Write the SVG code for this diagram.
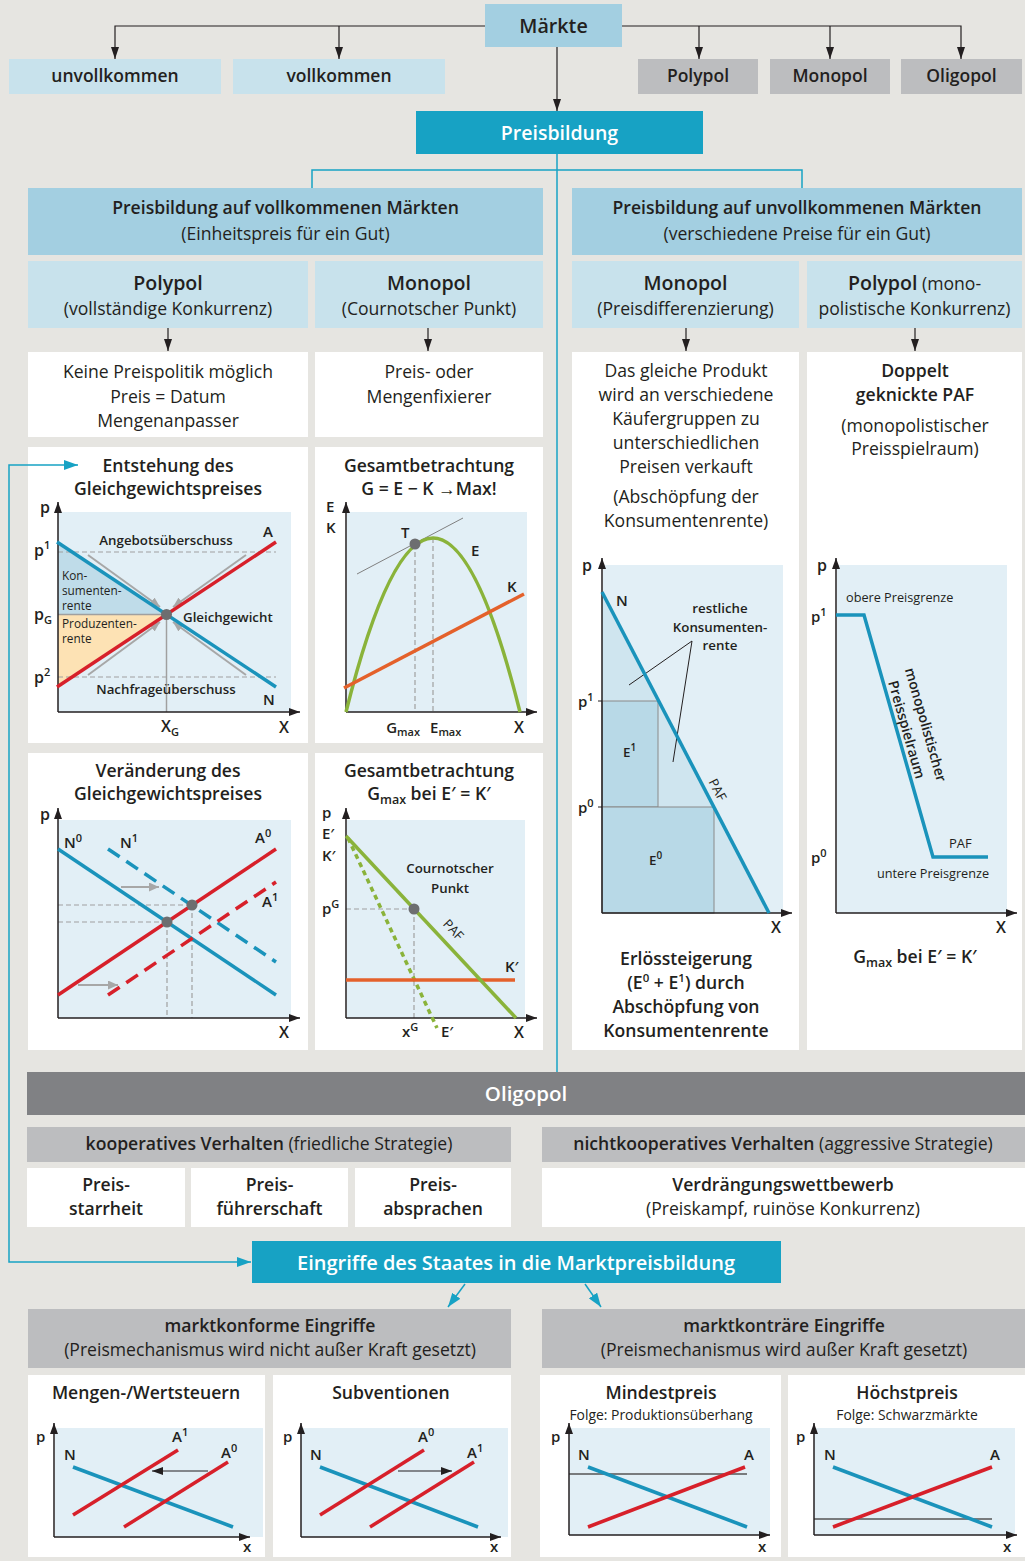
<svg xmlns="http://www.w3.org/2000/svg" width="1025" height="1561" viewBox="0 0 1025 1561" font-size="17.6">
<defs>
<style>
text{font-family:"Open Sans","Noto Sans","Liberation Sans",sans-serif;font-stretch:90%;fill:#231f20}
.b{font-weight:600}
.m{font-weight:600}
.w{fill:#fff}
.c{text-anchor:middle}
.gt{font-size:13.3px;font-weight:600}
.lt{font-size:15px;font-weight:600}
.ax{font-size:16px;font-weight:600}
.axis{stroke:#231f20;stroke-width:1.5;fill:none;marker-end:url(#ax)}
.bg{fill:#e2eff6}
.pn{fill:#fff}
.lb{fill:#c8e2ec}
.db{fill:#a3cfe1}
.gr{fill:#bcbdbf}
.tl{fill:#17a2c4}
.blue{stroke:#1a93bb;stroke-width:3.5;fill:none}
.red{stroke:#d7202a;stroke-width:3.5;fill:none}
.green{stroke:#8ab33a;stroke-width:3.5;fill:none}
.orange{stroke:#e4612b;stroke-width:3.5;fill:none}
.dash{stroke:#a0a0a0;stroke-width:1.2;stroke-dasharray:5 3;fill:none}
.gl{stroke:#a0a0a0;stroke-width:1.5;fill:none}
.garr{stroke:#a7a7a7;stroke-width:2;fill:none;marker-end:url(#ag)}
.con{stroke:#231f20;stroke-width:1.2;fill:none;marker-end:url(#ah)}
.teal{stroke:#17a2c4;stroke-width:1.5;fill:none}
.pt{fill:#6d6e70}
</style>
<marker id="ah" viewBox="0 0 12 8" refX="12" refY="4" markerWidth="12" markerHeight="8" markerUnits="userSpaceOnUse" orient="auto"><path d="M0,0 L12,4 L0,8 z" fill="#231f20"/></marker>
<marker id="ax" viewBox="0 0 11 8" refX="11" refY="4" markerWidth="11" markerHeight="8" markerUnits="userSpaceOnUse" orient="auto"><path d="M0,0 L11,4 L0,8 z" fill="#231f20"/></marker>
<marker id="ag" viewBox="0 0 10 9" refX="10" refY="4.5" markerWidth="10" markerHeight="9" markerUnits="userSpaceOnUse" orient="auto"><path d="M0,0 L10,4.5 L0,9 z" fill="#a7a7a7"/></marker>
<marker id="at" viewBox="0 0 14 10" refX="14" refY="5" markerWidth="14" markerHeight="10" markerUnits="userSpaceOnUse" orient="auto-start-reverse"><path d="M0,0 L14,5 L0,10 z" fill="#17a2c4"/></marker>
</defs>
<rect x="0" y="0" width="1025" height="1561" fill="#e6e5e1"/>

<g id="n-maerkte"><rect x="485" y="4" width="137" height="43" class="db"/><text x="553.5" y="33" font-size="19.7" class="c m">Märkte</text></g>
<g id="n-unvollkommen"><rect x="9" y="59" width="212" height="35" class="lb"/><text x="115" y="82" font-size="17.5" class="c m">unvollkommen</text></g>
<g id="n-vollkommen"><rect x="233" y="59" width="212" height="35" class="lb"/><text x="339" y="82" font-size="17.5" class="c m">vollkommen</text></g>
<g id="n-polypol"><rect x="638" y="59" width="120" height="35" class="gr"/><text x="698" y="82" font-size="17.5" class="c m">Polypol</text></g>
<g id="n-monopol"><rect x="770" y="59" width="120" height="35" class="gr"/><text x="830" y="82" font-size="17.5" class="c m">Monopol</text></g>
<g id="n-oligopol"><rect x="901" y="59" width="121" height="35" class="gr"/><text x="961.5" y="82" font-size="17.5" class="c m">Oligopol</text></g>
<g id="n-preisbildung"><rect x="416" y="111" width="287" height="43" class="tl"/><text x="559.5" y="140" font-size="19.5" class="c m w">Preisbildung</text></g>

<g id="n-vollk-maerkte"><rect x="28" y="188" width="515" height="67" class="db"/>
<text x="285.5" y="214" class="c b">Preisbildung auf vollkommenen Märkten</text>
<text x="285.5" y="240" class="c">(Einheitspreis für ein Gut)</text></g>
<g id="n-unvollk-maerkte"><rect x="572" y="188" width="450" height="67" class="db"/>
<text x="797" y="214" class="c b">Preisbildung auf unvollkommenen Märkten</text>
<text x="797" y="240" class="c">(verschiedene Preise für ein Gut)</text></g>

<g id="n-polypol-v"><rect x="28" y="261" width="280" height="67" class="lb"/>
<text x="168" y="290" font-size="19.6" class="c b">Polypol</text>
<text x="168" y="315" class="c">(vollständige Konkurrenz)</text></g>
<g id="n-monopol-v"><rect x="315" y="261" width="228" height="67" class="lb"/>
<text x="429" y="290" font-size="19.6" class="c b">Monopol</text>
<text x="429" y="315" class="c">(Cournotscher Punkt)</text></g>
<g id="n-monopol-u"><rect x="572" y="261" width="227" height="67" class="lb"/>
<text x="685.5" y="290" font-size="19.6" class="c b">Monopol</text>
<text x="685.5" y="315" class="c">(Preisdifferenzierung)</text></g>
<g id="n-polypol-u"><rect x="807" y="261" width="215" height="67" class="lb"/>
<text x="914.5" y="290" class="c"><tspan class="b" font-size="19.6">Polypol</tspan> (mono-</text>
<text x="914.5" y="315" class="c">polistische Konkurrenz)</text></g>

<g id="n-keine"><rect x="28" y="352" width="280" height="85" class="pn"/>
<text x="168" y="378" class="c">Keine Preispolitik möglich</text>
<text x="168" y="403" class="c">Preis = Datum</text>
<text x="168" y="427" class="c">Mengenanpasser</text></g>
<g id="n-fixierer"><rect x="315" y="352" width="228" height="85" class="pn"/>
<text x="429" y="378" class="c">Preis- oder</text>
<text x="429" y="403" class="c">Mengenfixierer</text></g>

<g id="g-entstehung"><rect x="28" y="447" width="280" height="296" class="pn"/>
<text x="168" y="472" class="c b">Entstehung des</text>
<text x="168" y="495" class="c b">Gleichgewichtspreises</text>
<rect x="58" y="512" width="233" height="200" class="bg"/>
<polygon points="58,543 166.5,614.5 58,614.5" fill="#bfdce9"/>
<polygon points="58,614.5 166.5,614.5 58,686" fill="#fde2b4"/>
<line class="dash" x1="58" y1="552" x2="276" y2="552"/>
<line class="dash" x1="58" y1="677" x2="276" y2="677"/>
<line class="gl" x1="58" y1="614.5" x2="166.5" y2="614.5"/>
<line class="gl" x1="166.5" y1="614.5" x2="166.5" y2="712"/>
<line class="garr" x1="88" y1="555" x2="160" y2="607"/>
<line class="garr" x1="246" y1="555" x2="173" y2="607"/>
<line class="garr" x1="88" y1="675" x2="160" y2="622"/>
<line class="garr" x1="246" y1="675" x2="173" y2="622"/>
<line class="axis" x1="58" y1="712" x2="58" y2="502"/>
<line class="axis" x1="58" y1="712" x2="300" y2="712"/>
<line class="blue" x1="57" y1="542" x2="276" y2="687"/>
<line class="red" x1="57" y1="687" x2="276" y2="542"/>
<circle cx="166.5" cy="614.5" r="5.5" class="pt"/>
<text x="40" y="513" class="ax">p</text>
<text x="34" y="556" class="ax">p<tspan dy="-7" font-size="11">1</tspan></text>
<text x="34" y="620" class="ax">p<tspan dy="4" font-size="11">G</tspan></text>
<text x="34" y="683" class="ax">p<tspan dy="-7" font-size="11">2</tspan></text>
<text x="166" y="545" class="c gt">Angebotsüberschuss</text>
<text x="263" y="537" class="lt">A</text>
<text x="62" y="580" font-size="11.8">Kon-</text>
<text x="62" y="595" font-size="11.8">sumenten-</text>
<text x="62" y="610" font-size="11.8">rente</text>
<text x="62" y="628" font-size="11.8">Produzenten-</text>
<text x="62" y="643" font-size="11.8">rente</text>
<text x="183" y="622" class="gt">Gleichgewicht</text>
<text x="166" y="694" class="c gt">Nachfrageüberschuss</text>
<text x="263" y="705" class="lt">N</text>
<text x="279" y="733" class="ax">X</text>
<text x="161" y="732" class="ax">X<tspan dy="4" font-size="11">G</tspan></text>
</g>

<g id="g-gesamt1"><rect x="315" y="447" width="228" height="296" class="pn"/>
<text x="429" y="472" class="c b">Gesamtbetrachtung</text>
<text x="429" y="495" class="c b">G = E − K →Max!</text>
<rect x="347" y="512" width="180" height="200" class="bg"/>
<line class="dash" x1="415" y1="544" x2="415" y2="712"/>
<line class="dash" x1="433" y1="538" x2="433" y2="712"/>
<line x1="357" y1="574" x2="463" y2="518" stroke="#808080" stroke-width="1"/>
<line class="axis" x1="346" y1="712" x2="346" y2="502"/>
<line class="axis" x1="346" y1="712" x2="537" y2="712"/>
<path class="green" d="M346,712 Q433,364 520,712"/>
<line class="orange" x1="344" y1="688" x2="524" y2="594"/>
<circle cx="415" cy="544" r="5.5" class="pt"/>
<text x="326" y="512" class="lt">E</text>
<text x="326" y="533" class="lt">K</text>
<text x="401" y="538" class="lt">T</text>
<text x="471" y="556" class="lt">E</text>
<text x="507" y="592" class="lt">K</text>
<text x="420" y="733" class="lt" text-anchor="end">G<tspan dy="3" font-size="11">max</tspan></text>
<text x="430" y="733" class="lt">E<tspan dy="3" font-size="11">max</tspan></text>
<text x="514" y="733" class="ax">X</text>
</g>

<g id="g-veraenderung"><rect x="28" y="753" width="280" height="297" class="pn"/>
<text x="168" y="777" class="c b">Veränderung des</text>
<text x="168" y="800" class="c b">Gleichgewichtspreises</text>
<rect x="58" y="820" width="233" height="198" class="bg"/>
<line class="dash" x1="58" y1="905" x2="192" y2="905"/>
<line class="dash" x1="58" y1="922" x2="167" y2="922"/>
<line class="dash" x1="167" y1="922" x2="167" y2="1018"/>
<line class="dash" x1="192" y1="905" x2="192" y2="1018"/>
<line class="garr" x1="121" y1="887" x2="159" y2="887"/>
<line class="garr" x1="78" y1="985" x2="118" y2="985"/>
<line class="axis" x1="58" y1="1018" x2="58" y2="808"/>
<line class="axis" x1="58" y1="1018" x2="300" y2="1018"/>
<line class="blue" x1="58" y1="849" x2="276" y2="995"/>
<line class="blue" x1="108" y1="849" x2="276" y2="962" stroke-dasharray="14 8"/>
<line class="red" x1="58" y1="995" x2="276" y2="849"/>
<line class="red" x1="108" y1="995" x2="276" y2="882" stroke-dasharray="14 8"/>
<circle cx="167" cy="922" r="5.5" class="pt"/>
<circle cx="192" cy="905" r="5.5" class="pt"/>
<text x="40" y="820" class="ax">p</text>
<text x="64" y="848" class="lt">N<tspan dy="-6" font-size="11">0</tspan></text>
<text x="120" y="848" class="lt">N<tspan dy="-6" font-size="11">1</tspan></text>
<text x="255" y="843" class="lt">A<tspan dy="-6" font-size="11">0</tspan></text>
<text x="262" y="907" class="lt">A<tspan dy="-6" font-size="11">1</tspan></text>
<text x="279" y="1038" class="ax">X</text>
</g>

<g id="g-gesamt2"><rect x="315" y="753" width="228" height="297" class="pn"/>
<text x="429" y="777" class="c b">Gesamtbetrachtung</text>
<text x="429" y="800" class="c b">G<tspan dy="4" font-size="12.5">max</tspan><tspan dy="-4"> bei E′ = K′</tspan></text>
<rect x="347" y="820" width="178" height="198" class="bg"/>
<line class="dash" x1="346" y1="909" x2="414" y2="909"/>
<line class="dash" x1="414" y1="909" x2="414" y2="1018"/>
<line class="axis" x1="346" y1="1018" x2="346" y2="808"/>
<line class="axis" x1="346" y1="1018" x2="537" y2="1018"/>
<line class="green" x1="348" y1="838" x2="437" y2="1028" stroke-dasharray="5 4"/>
<line class="orange" x1="346" y1="980" x2="515" y2="980"/>
<line class="green" x1="346" y1="836" x2="516" y2="1018"/>
<circle cx="414" cy="909" r="5.5" class="pt"/>
<text x="322" y="818" class="lt">p</text>
<text x="322" y="839" class="lt">E′</text>
<text x="322" y="861" class="lt">K′</text>
<text x="322" y="914" class="lt">p<tspan dy="-6" font-size="11">G</tspan></text>
<text x="450" y="873" class="c gt">Cournotscher</text>
<text x="450" y="893" class="c gt">Punkt</text>
<text x="453" y="934" font-size="13" class="c" transform="rotate(47 453 930)">PAF</text>
<text x="505" y="972" class="lt">K′</text>
<text x="410" y="1037" class="c lt">x<tspan dy="-6" font-size="11">G</tspan></text>
<text x="441" y="1037" class="lt">E′</text>
<text x="514" y="1038" class="ax">X</text>
</g>

<g id="g-monopol-u"><rect x="572" y="352" width="227" height="698" class="pn"/>
<text x="686" y="377" class="c">Das gleiche Produkt</text>
<text x="686" y="401" class="c">wird an verschiedene</text>
<text x="686" y="425" class="c">Käufergruppen zu</text>
<text x="686" y="449" class="c">unterschiedlichen</text>
<text x="686" y="473" class="c">Preisen verkauft</text>
<text x="686" y="503" class="c">(Abschöpfung der</text>
<text x="686" y="527" class="c">Konsumentenrente)</text>
<rect x="603" y="565" width="180" height="348" class="bg"/>
<polygon points="602,592 769,913 602,913" fill="#cfe5ef"/>
<rect x="602" y="701" width="56" height="106" fill="#b8d9e7" stroke="#8a8a8a" stroke-width="1"/>
<rect x="602" y="807" width="112" height="106" fill="#b8d9e7" stroke="#8a8a8a" stroke-width="1"/>
<line x1="598" y1="701" x2="602" y2="701" stroke="#231f20"/>
<line x1="598" y1="807" x2="602" y2="807" stroke="#231f20"/>
<path d="M629,685 L692,641 L673,762" stroke="#231f20" stroke-width="1" fill="none"/>
<line class="axis" x1="602" y1="913" x2="602" y2="558"/>
<line class="axis" x1="602" y1="913" x2="792" y2="913"/>
<line class="blue" x1="602" y1="592" x2="769" y2="913"/>
<text x="582" y="571" class="ax">p</text>
<text x="616" y="606" class="lt">N</text>
<text x="720" y="613" class="c gt">restliche</text>
<text x="720" y="632" class="c gt">Konsumenten-</text>
<text x="720" y="650" class="c gt">rente</text>
<text x="578" y="707" class="lt">p<tspan dy="-6" font-size="11">1</tspan></text>
<text x="578" y="813" class="lt">p<tspan dy="-6" font-size="11">0</tspan></text>
<text x="623" y="757" class="gt">E<tspan dy="-6" font-size="10">1</tspan></text>
<text x="649" y="865" class="gt">E<tspan dy="-6" font-size="10">0</tspan></text>
<text x="717" y="794" font-size="13" class="c" transform="rotate(62 717 790)">PAF</text>
<text x="771" y="933" class="ax">X</text>
<text x="686" y="965" class="c b">Erlössteigerung</text>
<text x="686" y="989" class="c b">(E<tspan dy="-7" font-size="11.5">0</tspan><tspan dy="7"> + E</tspan><tspan dy="-7" font-size="11.5">1</tspan><tspan dy="7">) durch</tspan></text>
<text x="686" y="1013" class="c b">Abschöpfung von</text>
<text x="686" y="1037" class="c b">Konsumentenrente</text>
</g>

<g id="g-polypol-u"><rect x="807" y="352" width="215" height="698" class="pn"/>
<text x="915" y="377" class="c b">Doppelt</text>
<text x="915" y="401" class="c b">geknickte PAF</text>
<text x="915" y="432" class="c">(monopolistischer</text>
<text x="915" y="455" class="c">Preisspielraum)</text>
<rect x="837" y="565" width="170" height="348" class="bg"/>
<line class="axis" x1="836" y1="913" x2="836" y2="558"/>
<line class="axis" x1="836" y1="913" x2="1017" y2="913"/>
<polyline class="blue" points="836,615 864,615 933,857 988,857"/>
<text x="817" y="571" class="ax">p</text>
<text x="846" y="602" font-size="12.7">obere Preisgrenze</text>
<text x="811" y="622" class="lt">p<tspan dy="-6" font-size="11">1</tspan></text>
<text x="811" y="863" class="lt">p<tspan dy="-6" font-size="11">0</tspan></text>
<text x="949" y="848" font-size="13">PAF</text>
<text x="877" y="878" font-size="12.7">untere Preisgrenze</text>
<text x="921" y="726" class="c m" font-size="14" transform="rotate(74 921 726)">monopolistischer</text>
<text x="902" y="731" class="c m" font-size="14" transform="rotate(74 902 731)">Preisspielraum</text>
<text x="996" y="933" class="ax">X</text>
<text x="915" y="963" class="c b">G<tspan dy="4" font-size="12.5">max</tspan><tspan dy="-4"> bei E′ = K′</tspan></text>
</g>

<g id="n-oligopol-bar"><rect x="27" y="1072" width="998" height="43" fill="#808184"/><text x="526" y="1101" font-size="20.5" class="c m w">Oligopol</text></g>
<g id="n-kooperativ"><rect x="27" y="1127" width="484" height="35" class="gr"/><text x="269" y="1150" class="c"><tspan class="b">kooperatives Verhalten</tspan> (friedliche Strategie)</text></g>
<g id="n-nichtkooperativ"><rect x="542" y="1127" width="483" height="35" class="gr"/><text x="783" y="1150" class="c"><tspan class="b">nichtkooperatives Verhalten</tspan> (aggressive Strategie)</text></g>
<g id="n-starrheit"><rect x="27" y="1168" width="158" height="59" class="pn"/><text x="106" y="1191" class="c b">Preis-</text><text x="106" y="1215" class="c b">starrheit</text></g>
<g id="n-fuehrerschaft"><rect x="191" y="1168" width="157" height="59" class="pn"/><text x="269.5" y="1191" class="c b">Preis-</text><text x="269.5" y="1215" class="c b">führerschaft</text></g>
<g id="n-absprachen"><rect x="355" y="1168" width="156" height="59" class="pn"/><text x="433" y="1191" class="c b">Preis-</text><text x="433" y="1215" class="c b">absprachen</text></g>
<g id="n-verdraengung"><rect x="542" y="1168" width="483" height="59" class="pn"/><text x="783" y="1191" class="c b">Verdrängungswettbewerb</text><text x="783" y="1215" class="c">(Preiskampf, ruinöse Konkurrenz)</text></g>
<g id="n-eingriffe"><rect x="252" y="1241" width="529" height="42" class="tl"/><text x="516" y="1270" font-size="20" class="c m w">Eingriffe des Staates in die Marktpreisbildung</text></g>

<g id="n-marktkonform"><rect x="28" y="1309" width="483" height="59" class="gr"/><text x="270" y="1332" class="c b">marktkonforme Eingriffe</text><text x="270" y="1356" class="c">(Preismechanismus wird nicht außer Kraft gesetzt)</text></g>
<g id="n-marktkontraer"><rect x="542" y="1309" width="483" height="59" class="gr"/><text x="784" y="1332" class="c b">marktkonträre Eingriffe</text><text x="784" y="1356" class="c">(Preismechanismus wird außer Kraft gesetzt)</text></g>

<g id="g-steuern"><rect x="28" y="1375" width="237" height="182" class="pn"/>
<text x="146" y="1399" class="c b">Mengen-/Wertsteuern</text>
<rect x="55" y="1428" width="208" height="109" class="bg"/>
<line class="axis" x1="54" y1="1537" x2="54" y2="1423"/>
<line class="axis" x1="54" y1="1537" x2="250" y2="1537"/>
<line class="blue" x1="73" y1="1467" x2="233" y2="1527" stroke-width="3"/>
<line class="red" x1="73" y1="1515" x2="178" y2="1450" stroke-width="3"/>
<line class="red" x1="124" y1="1527" x2="228" y2="1462" stroke-width="3"/>
<line x1="208" y1="1471" x2="152" y2="1471" stroke="#231f20" stroke-width="1.2" marker-end="url(#ax)"/>
<text x="36" y="1442" class="lt">p</text>
<text x="64" y="1460" class="lt">N</text>
<text x="172" y="1442" class="lt">A<tspan dy="-6" font-size="11">1</tspan></text>
<text x="221" y="1458" class="lt">A<tspan dy="-6" font-size="11">0</tspan></text>
<text x="243" y="1552" class="lt">x</text>
</g>
<g id="g-subventionen"><rect x="273" y="1375" width="238" height="182" class="pn"/>
<text x="391" y="1399" class="c b">Subventionen</text>
<rect x="301" y="1428" width="207" height="109" class="bg"/>
<line class="axis" x1="301" y1="1537" x2="301" y2="1423"/>
<line class="axis" x1="301" y1="1537" x2="501" y2="1537"/>
<line class="blue" x1="320" y1="1467" x2="478" y2="1527" stroke-width="3"/>
<line class="red" x1="320" y1="1515" x2="424" y2="1450" stroke-width="3"/>
<line class="red" x1="370" y1="1527" x2="474" y2="1462" stroke-width="3"/>
<line x1="398" y1="1471" x2="452" y2="1471" stroke="#231f20" stroke-width="1.2" marker-end="url(#ax)"/>
<text x="283" y="1442" class="lt">p</text>
<text x="310" y="1460" class="lt">N</text>
<text x="418" y="1442" class="lt">A<tspan dy="-6" font-size="11">0</tspan></text>
<text x="467" y="1458" class="lt">A<tspan dy="-6" font-size="11">1</tspan></text>
<text x="490" y="1552" class="lt">x</text>
</g>
<g id="g-mindestpreis"><rect x="540" y="1375" width="241" height="182" class="pn"/>
<text x="661" y="1399" class="c b">Mindestpreis</text>
<text x="661" y="1420" font-size="13.9" class="c">Folge: Produktionsüberhang</text>
<rect x="569" y="1428" width="201" height="107" class="bg"/>
<line x1="569" y1="1474" x2="747" y2="1474" stroke="#555" stroke-width="1.5"/>
<line class="axis" x1="569" y1="1535" x2="569" y2="1423"/>
<line class="axis" x1="569" y1="1535" x2="770" y2="1535"/>
<line class="blue" x1="588" y1="1467" x2="747" y2="1527" stroke-width="3"/>
<line class="red" x1="588" y1="1527" x2="745" y2="1467" stroke-width="3"/>
<text x="551" y="1442" class="lt">p</text>
<text x="578" y="1460" class="lt">N</text>
<text x="744" y="1460" class="lt">A</text>
<text x="758" y="1552" class="lt">x</text>
</g>
<g id="g-hoechstpreis"><rect x="788" y="1375" width="237" height="182" class="pn"/>
<text x="907" y="1399" class="c b">Höchstpreis</text>
<text x="907" y="1420" font-size="13.9" class="c">Folge: Schwarzmärkte</text>
<rect x="814" y="1428" width="201" height="107" class="bg"/>
<line x1="814" y1="1519" x2="992" y2="1519" stroke="#555" stroke-width="1.5"/>
<line class="axis" x1="814" y1="1535" x2="814" y2="1423"/>
<line class="axis" x1="814" y1="1535" x2="1017" y2="1535"/>
<line class="blue" x1="833" y1="1467" x2="992" y2="1527" stroke-width="3"/>
<line class="red" x1="833" y1="1527" x2="992" y2="1467" stroke-width="3"/>
<text x="796" y="1442" class="lt">p</text>
<text x="824" y="1460" class="lt">N</text>
<text x="990" y="1460" class="lt">A</text>
<text x="1003" y="1552" class="lt">x</text>
</g>

<g id="connectors">
<path class="con" d="M485,26 H115 V59"/>
<path class="con" d="M339,26 V59"/>
<path class="con" d="M622,26 H961 V59"/>
<path class="con" d="M699,26 V59"/>
<path class="con" d="M830,26 V59"/>
<path class="con" d="M557,47 V111"/>
<path class="con" d="M168,328 V351"/>
<path class="con" d="M428,328 V351"/>
<path class="con" d="M686,328 V351"/>
<path class="con" d="M915,328 V351"/>
<path class="teal" d="M557,154 V1072"/>
<path class="teal" d="M312,188 V170 H802 V188"/>
<path class="teal" d="M78,465 H9 V1262 H251" marker-start="url(#at)" marker-end="url(#at)"/>
<path class="teal" d="M465,1284 L448,1307" marker-end="url(#at)"/>
<path class="teal" d="M585,1284 L601,1307" marker-end="url(#at)"/>
</g>
</svg>
